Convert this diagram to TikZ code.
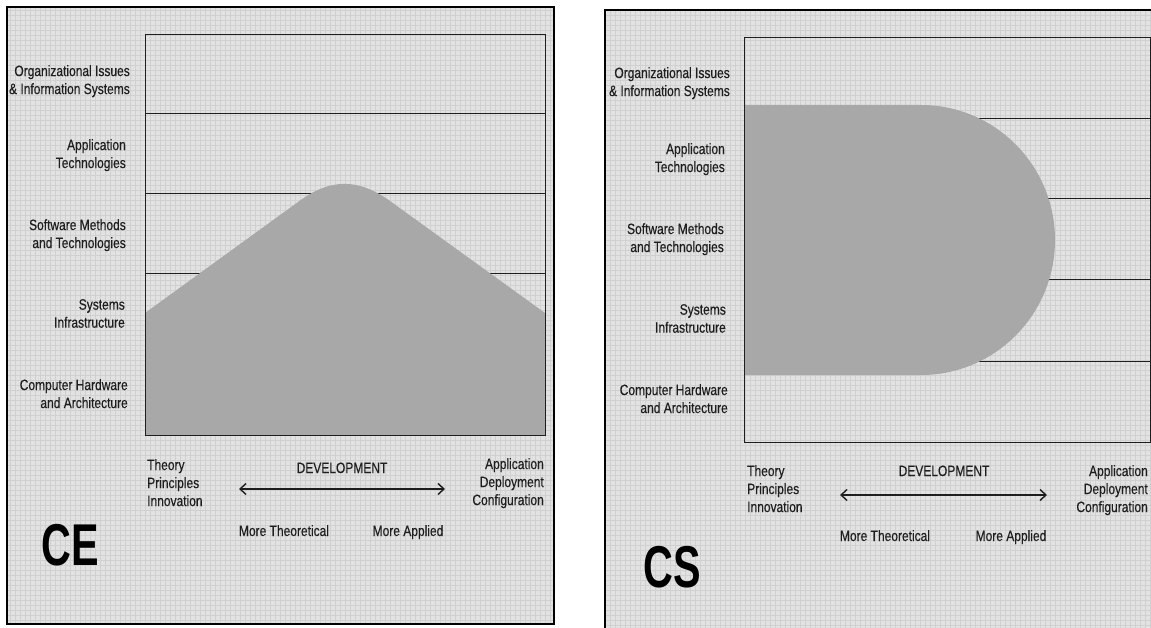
\documentclass[tikz,border=0pt]{standalone}
\usepackage{fontspec}
\setmainfont{Liberation Sans}[FakeStretch=0.8]
\newfontfamily\lblfont{Liberation Sans}[FakeStretch=0.8, FakeBold=0.35]
\newfontfamily\panelfont{Liberation Sans}[FakeStretch=0.7]
\usetikzlibrary{arrows.meta}
\definecolor{paper}{RGB}{226,226,226}
\definecolor{paperline}{RGB}{208,208,208}
\definecolor{hump}{RGB}{168,168,168}
\definecolor{ink}{RGB}{30,30,30}
\tikzset{
	lbl/.style={inner sep=0pt, text=ink, font=\lblfont\fontsize{15}{18}\selectfont},
	rowlbl/.style={lbl, anchor=north east, align=right},
	leftlbl/.style={lbl, anchor=north west, align=left},
	panellbl/.style={inner sep=0pt, anchor=base, font=\panelfont\bfseries\fontsize{59}{60}\selectfont},
	devarrow/.style={line width=1.4pt, color=ink, {Straight Barb[length=6pt,width=11pt]}-{Straight Barb[length=6pt,width=11pt]}},
	rowline/.style={line width=1pt, color=ink},
}
\begin{document}
\begin{tikzpicture}[x=1pt,y=-1pt]
			\useasboundingbox (0,0) rectangle (1151,628);
			\clip (0,0) rectangle (1151,628);
			%%%%% CE %%%%%
			
			\fill[paper] (7,7) rectangle (554,624);
			\draw[paperline, line width=0.4pt, step=5pt] (7,7) grid (554,624);
			
			\draw[rowline] (145,114) -- (545,114);
			\draw[rowline] (145,194) -- (545,194);
			\draw[rowline] (145,274) -- (545,274);
			\draw[rowline] (145,355) -- (545,355);
			
			\fill[hump] (145,435) -- (145,313) -- (298,202) .. controls (330,178) and (358,178) .. (390,201) -- (545,313) -- (545,435) -- cycle;
			\draw[rowline] (145,35) rectangle (545,435);
			\draw[line width=2.5pt] (7,7) rectangle (554,624);
			
			\node[rowlbl] (orgCE) at (130,65) {Organizational Issues\\\& Information Systems};
			\node[rowlbl] (appCE) at (126,139) {Application\\Technologies};
			\node[rowlbl] (swCE) at (126,219) {Software Methods\\and Technologies};
			\node[rowlbl] (sysCE) at (125,299) {Systems\\Infrastructure};
			\node[rowlbl] (hwCE) at (128,379) {Computer Hardware\\and Architecture};
			
			\node[leftlbl] (theoryCE) at (147,459) {Theory\\Principles\\Innovation};
			\node[lbl, anchor=base] (devCE) at (342,473) {DEVELOPMENT};
			\coordinate (ceFrom) at (239,489);
			\coordinate (ceTo) at (445,489);
			\draw[devarrow] (ceFrom) -- (ceTo);
			\node[lbl, anchor=base] (moreTheoCE) at (284,536) {More Theoretical};
			\node[lbl, anchor=base] (moreApplCE) at (408,536) {More Applied};
			\node[rowlbl] (deployCE) at (544,458) {Application\\Deployment\\Configuration};
			\node[panellbl] (titleCE) at (70.5,565) {CE};
			
			%%%%% CS %%%%%
			
			\fill[paper] (605,10) rectangle (1160,640);
			\draw[paperline, line width=0.4pt, step=5pt] (605,10) grid (1160,640);
			
			\draw[rowline] (744,119) -- (1150,119);
			\draw[rowline] (744,199) -- (1150,199);
			\draw[rowline] (744,280) -- (1150,280);
			\draw[rowline] (744,361) -- (1150,361);
			
			\fill[hump] (744,375) -- (744,105) -- (921,105) arc[start angle=-90, end angle=90, x radius=134, y radius=135] -- cycle;
			\draw[rowline] (744,38) rectangle (1150,442);
			\draw[line width=2.5pt] (605,640) -- (605,10) -- (1160,10);
			
			\node[rowlbl] (orgCS) at (730,67) {Organizational Issues\\\& Information Systems};
			\node[rowlbl] (appCS) at (725,143) {Application\\Technologies};
			\node[rowlbl] (swCS) at (724,223) {Software Methods\\and Technologies};
			\node[rowlbl] (sysCS) at (726,304) {Systems\\Infrastructure};
			\node[rowlbl] (hwCS) at (728,384) {Computer Hardware\\and Architecture};
			
			\node[leftlbl] (theoryCS) at (747,465) {Theory\\Principles\\Innovation};
			\node[lbl, anchor=base] (devCS) at (944,476) {DEVELOPMENT};
			\coordinate (csFrom) at (840,495);
			\coordinate (csTo) at (1047,495);
			\draw[devarrow] (csFrom) -- (csTo);
			\node[lbl, anchor=base] (moreTheoCS) at (885,541) {More Theoretical};
			\node[lbl, anchor=base] (moreApplCS) at (1011,541) {More Applied};
			\node[rowlbl] (deployCS) at (1148,465) {Application\\Deployment\\Configuration};
			\node[panellbl] (titleCS) at (672.5,587) {CS};
			
			%%%%% END %%%%%
\end{tikzpicture}
\end{document}
